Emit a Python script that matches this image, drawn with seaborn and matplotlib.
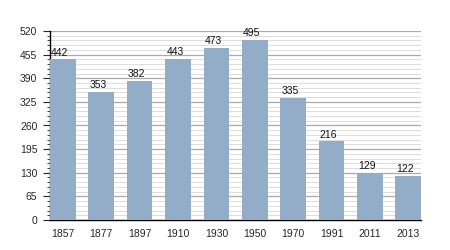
import matplotlib
matplotlib.use("Agg")
import matplotlib.pyplot as plt
import seaborn as sns
import pandas as pd
from matplotlib.ticker import MultipleLocator

years = ["1857", "1877", "1897", "1910", "1930", "1950", "1970", "1991", "2011", "2013"]
population = [442, 353, 382, 443, 473, 495, 335, 216, 129, 122]
yticks = [0, 65, 130, 195, 260, 325, 390, 455, 520]

df = pd.DataFrame({"year": years, "pop": population})

sns.set_style("white")
plt.rcParams['font.family'] = ['Liberation Sans', 'DejaVu Sans']

fig = plt.figure(figsize=(4.5, 2.5), dpi=100)
ax = fig.add_axes([0.111, 0.12, 0.825, 0.756])

sns.barplot(data=df, x="year", y="pop", color="#93adc9", width=0.67, saturation=1,
            linewidth=0, edgecolor="none", ax=ax, zorder=3)

ax.set_ylim(0, 520)
ax.set_yticks(yticks)
ax.yaxis.set_minor_locator(MultipleLocator(13))
ax.grid(which="major", axis="y", color="#aaaaaa", linewidth=0.9, zorder=0)
ax.grid(which="minor", axis="y", color="#dddddd", linewidth=0.7, zorder=0)
ax.set_axisbelow(True)

for i, v in enumerate(population):
    ax.text(i - 0.08, v + 5, str(v), ha="center", va="bottom", fontsize=7.5, color="#111111", zorder=4)

for s in ["top", "right"]:
    ax.spines[s].set_visible(False)
for s in ["left", "bottom"]:
    ax.spines[s].set_visible(True)
    ax.spines[s].set_color("black")
    ax.spines[s].set_linewidth(1)

ax.tick_params(axis="y", which="major", left=True, length=5, width=0.8, labelsize=7.5, pad=4)
ax.tick_params(axis="y", which="minor", left=True, length=2.5, width=0.6)
ax.tick_params(axis="x", bottom=False, labelsize=7.5, pad=3)
ax.set_xlabel("")
ax.set_ylabel("")
ax.set_xlim(-0.335, 9.335)

fig.savefig("out.png", dpi=100)
